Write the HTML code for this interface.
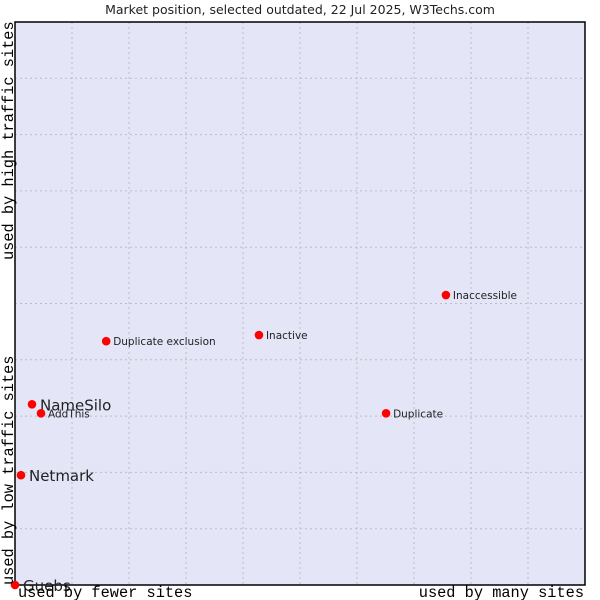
<!DOCTYPE html>
<html><head><meta charset="utf-8"><style>
body{margin:0;background:#fff;}
svg{display:block;}
</style></head><body>
<svg width="600" height="600" xmlns="http://www.w3.org/2000/svg">
<text x="300" y="14" text-anchor="middle" font-family="DejaVu Sans, sans-serif" font-size="12.5" fill="#222">Market position, selected outdated, 22 Jul 2025, W3Techs.com</text>
<rect x="15" y="22" width="570" height="563" fill="#e4e6f8"/>
<g id="grid"></g>
<rect x="15" y="22" width="570" height="563" fill="none" stroke="#000" stroke-width="1.5"/>
<g id="points"></g>
<text transform="translate(13,585) rotate(-90)" font-family="Liberation Mono, monospace" font-size="15.3" fill="#000">used by low traffic sites</text>
<text transform="translate(13,260) rotate(-90)" font-family="Liberation Mono, monospace" font-size="15.3" fill="#000">used by high traffic sites</text>
<text x="18" y="597" font-family="Liberation Mono, monospace" font-size="15.3" fill="#000">used by fewer sites</text>
<text x="584" y="597" text-anchor="end" font-family="Liberation Mono, monospace" font-size="15.3" fill="#000">used by many sites</text>
</svg>
<script>
const names=["Guebs","Netmark","NameSilo","AddThis","Duplicate exclusion","Inactive","Duplicate","Inaccessible"];
const xVals=[0,1.05,2.98,4.56,16.0,42.8,65.1,75.6];
const yVals=[0,19.5,32.1,30.5,43.3,44.4,30.5,51.5];
const bigLabel=[true,true,true,false,false,false,false,false];
const L=15,T=22,W=570,H=563;
const sx=v=>L+v/100*W, sy=v=>T+H-v/100*H;
const NS="http://www.w3.org/2000/svg";
const g=document.getElementById('grid');
for(let i=1;i<10;i++){
  let a=document.createElementNS(NS,'line');
  a.setAttribute('x1',sx(i*10));a.setAttribute('x2',sx(i*10));a.setAttribute('y1',T);a.setAttribute('y2',T+H);
  a.setAttribute('stroke','#bdbdbd');a.setAttribute('stroke-dasharray','2,3');
  
  
  g.appendChild(a);
  let b=document.createElementNS(NS,'line');
  b.setAttribute('y1',sy(i*10));b.setAttribute('y2',sy(i*10));b.setAttribute('x1',L);b.setAttribute('x2',L+W);
  b.setAttribute('stroke','#bdbdbd');b.setAttribute('stroke-dasharray','2,3');
  
  
  g.appendChild(b);
}
const p=document.getElementById('points');
names.forEach((n,i)=>{
  const x=sx(xVals[i]),y=sy(yVals[i]);
  const c=document.createElementNS(NS,'circle');
  c.setAttribute('cx',x);c.setAttribute('cy',y);c.setAttribute('r',4.3);c.setAttribute('fill','#ff0000');
  
  
  p.appendChild(c);
  const t=document.createElementNS(NS,'text');
  t.setAttribute('x',x+(bigLabel[i]?8:7));
  t.setAttribute('y',y+(bigLabel[i]?6:4));
  t.setAttribute('font-family','DejaVu Sans, sans-serif');
  t.setAttribute('font-size',bigLabel[i]?15:10.5);
  t.setAttribute('fill','#222');
  t.textContent=n;
  
  
  p.appendChild(t);
});
</script>
</body></html>
